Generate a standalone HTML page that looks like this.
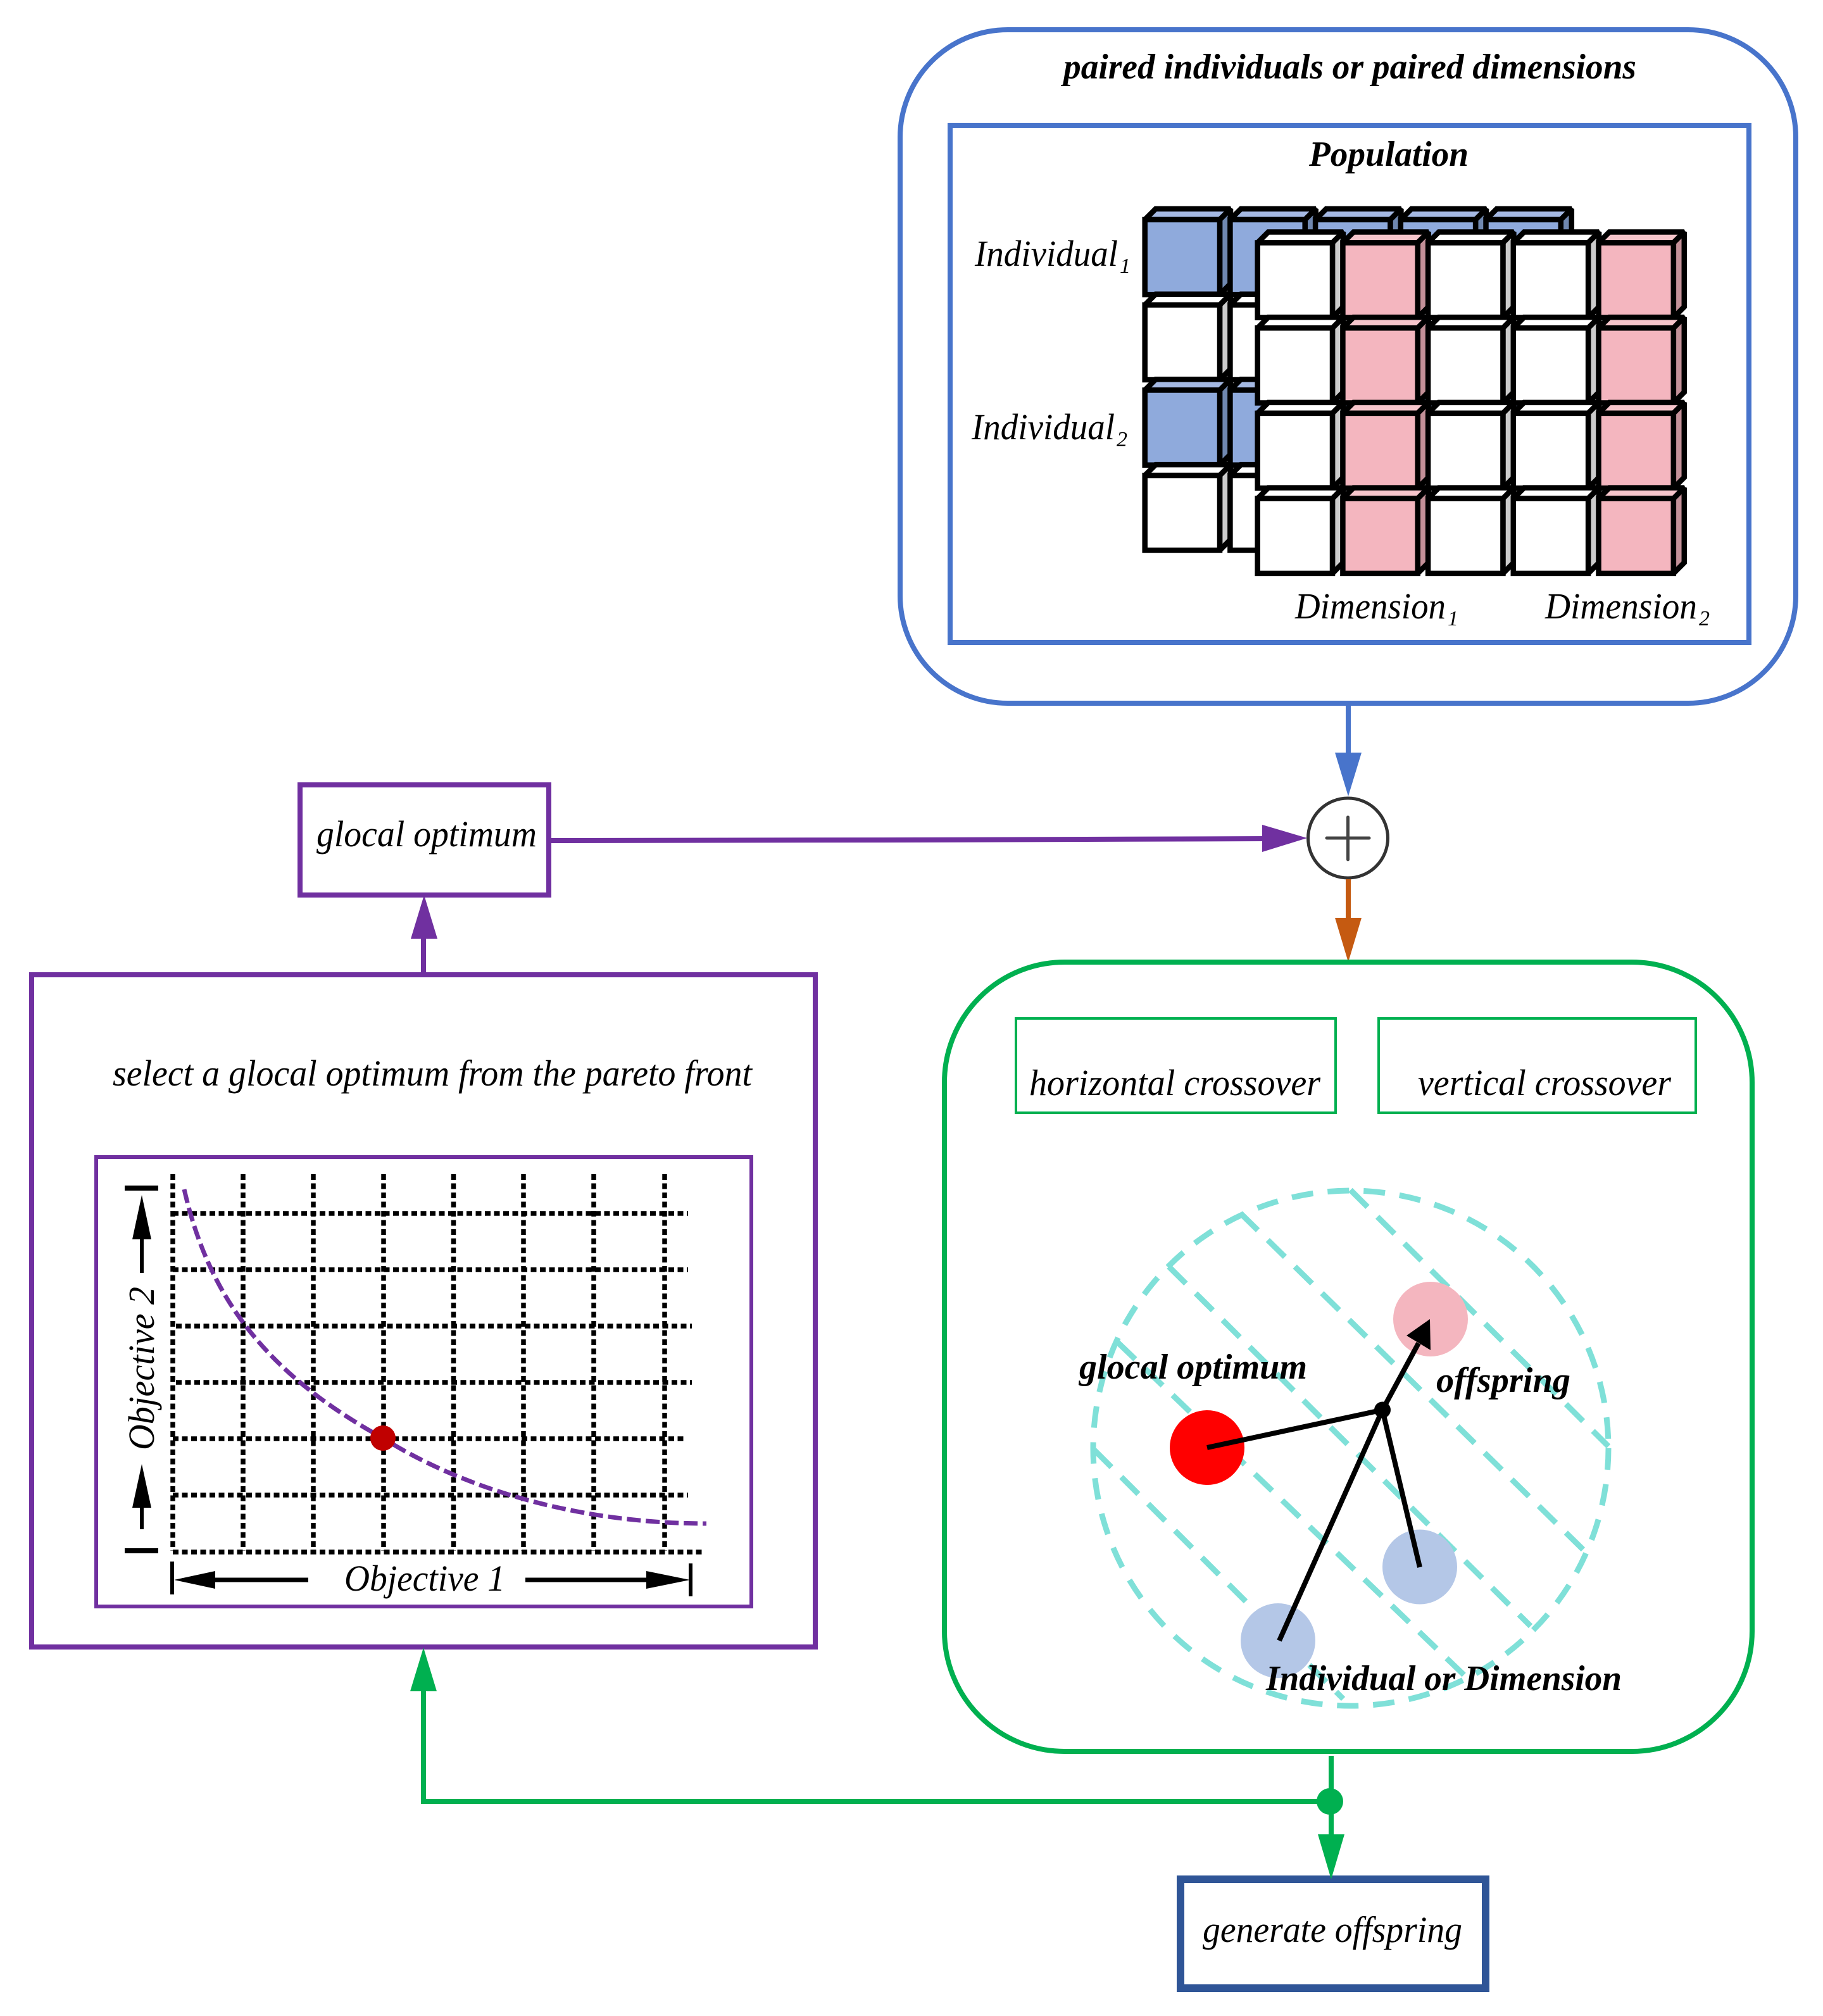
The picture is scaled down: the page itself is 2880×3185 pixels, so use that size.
<!DOCTYPE html>
<html><head><meta charset="utf-8"><style>
html,body{margin:0;padding:0;background:#fff}
svg{display:block}
text{font-family:"Liberation Serif",serif;font-style:italic;fill:#000}
.b{font-weight:bold}
</style></head><body>
<svg width="2880" height="3185" viewBox="0 0 2880 3185" xmlns="http://www.w3.org/2000/svg">
<defs>
<g id="cw" stroke="#000" stroke-width="8.5" stroke-linejoin="miter" stroke-miterlimit="1.5">
<path d="M0 0L17 -17H135.300L118.300 0Z" fill="#fff"/><path d="M118.300 0L135.300 -17V101.300L118.300 118.300Z" fill="#ccc"/><rect width="118.300" height="118.300" fill="#fff"/></g>
<g id="cb" stroke="#000" stroke-width="8.5" stroke-miterlimit="1.5">
<path d="M0 0L17 -17H135.300L118.300 0Z" fill="#a5b9e3"/><path d="M118.300 0L135.300 -17V101.300L118.300 118.300Z" fill="#7088b0"/><rect width="118.300" height="118.300" fill="#8faadc"/></g>
<g id="cp" stroke="#000" stroke-width="8.5" stroke-miterlimit="1.5">
<path d="M0 0L17 -17H135.300L118.300 0Z" fill="#f6c5cb"/><path d="M118.300 0L135.300 -17V101.300L118.300 118.300Z" fill="#c39098"/><rect width="118.300" height="118.300" fill="#f4b6bf"/></g>
</defs>
<rect width="2880" height="3185" fill="#fff"/>

<!-- blue container -->
<rect x="1422" y="47" width="1415" height="1064" rx="170" ry="170" fill="#fff" stroke="#4874cb" stroke-width="8"/>
<rect x="1501" y="198" width="1262" height="817" fill="#fff" stroke="#4874cb" stroke-width="8"/>
<text x="1680" y="124" font-size="56" class="b" textLength="905" lengthAdjust="spacingAndGlyphs">paired individuals or paired dimensions</text>
<text x="2068" y="262" font-size="56" class="b" textLength="252" lengthAdjust="spacingAndGlyphs">Population</text>

<!-- back cubes -->
<use href="#cb" x="1808.700" y="347"/><use href="#cb" x="1943.400" y="347"/><use href="#cb" x="2078.100" y="347"/><use href="#cb" x="2212.800" y="347"/><use href="#cb" x="2347.500" y="347"/>
<use href="#cw" x="1808.700" y="481.700"/><use href="#cw" x="1943.400" y="481.700"/><use href="#cw" x="2078.100" y="481.700"/><use href="#cw" x="2212.800" y="481.700"/><use href="#cw" x="2347.500" y="481.700"/>
<use href="#cb" x="1808.700" y="616.400"/><use href="#cb" x="1943.400" y="616.400"/><use href="#cb" x="2078.100" y="616.400"/><use href="#cb" x="2212.800" y="616.400"/><use href="#cb" x="2347.500" y="616.400"/>
<use href="#cw" x="1808.700" y="751.100"/><use href="#cw" x="1943.400" y="751.100"/><use href="#cw" x="2078.100" y="751.100"/><use href="#cw" x="2212.800" y="751.100"/><use href="#cw" x="2347.500" y="751.100"/>
<!-- front cubes -->
<use href="#cw" x="1986.700" y="383.500"/><use href="#cp" x="2121.400" y="383.500"/><use href="#cw" x="2256.100" y="383.500"/><use href="#cw" x="2390.800" y="383.500"/><use href="#cp" x="2525.500" y="383.500"/>
<use href="#cw" x="1986.700" y="518.200"/><use href="#cp" x="2121.400" y="518.200"/><use href="#cw" x="2256.100" y="518.200"/><use href="#cw" x="2390.800" y="518.200"/><use href="#cp" x="2525.500" y="518.200"/>
<use href="#cw" x="1986.700" y="652.900"/><use href="#cp" x="2121.400" y="652.900"/><use href="#cw" x="2256.100" y="652.900"/><use href="#cw" x="2390.800" y="652.900"/><use href="#cp" x="2525.500" y="652.900"/>
<use href="#cw" x="1986.700" y="787.600"/><use href="#cp" x="2121.400" y="787.600"/><use href="#cw" x="2256.100" y="787.600"/><use href="#cw" x="2390.800" y="787.600"/><use href="#cp" x="2525.500" y="787.600"/>

<text x="1540" y="420" font-size="58" textLength="226" lengthAdjust="spacingAndGlyphs">Individual</text>
<text x="1769" y="431" font-size="34" textLength="17" lengthAdjust="spacingAndGlyphs">1</text>
<text x="1535" y="694" font-size="58" textLength="226" lengthAdjust="spacingAndGlyphs">Individual</text>
<text x="1764" y="705" font-size="34" textLength="17" lengthAdjust="spacingAndGlyphs">2</text>
<text x="2046" y="977" font-size="58" textLength="238" lengthAdjust="spacingAndGlyphs">Dimension</text>
<text x="2287" y="988" font-size="34" textLength="17" lengthAdjust="spacingAndGlyphs">1</text>
<text x="2441" y="977" font-size="58" textLength="240" lengthAdjust="spacingAndGlyphs">Dimension</text>
<text x="2684" y="988" font-size="34" textLength="17" lengthAdjust="spacingAndGlyphs">2</text>

<!-- connectors top -->
<path d="M2130 1111V1195" stroke="#4874cb" stroke-width="8" fill="none"/>
<path d="M2109 1189H2151L2130 1258Z" fill="#4874cb"/>
<circle cx="2129.500" cy="1324" r="63" fill="#fff" stroke="#333" stroke-width="5"/>
<path d="M2096 1324H2163M2129.500 1291V1358" stroke="#444" stroke-width="5" stroke-linecap="round" fill="none"/>
<path d="M867 1328L1450 1327L1998 1325" stroke="#7030a0" stroke-width="8" fill="none"/>
<path d="M1994 1303L2065 1324L1994 1346Z" fill="#7030a0"/>
<path d="M2130 1389V1455" stroke="#c55a11" stroke-width="8" fill="none"/>
<path d="M2109 1450H2151L2130 1520Z" fill="#c55a11"/>

<!-- glocal box -->
<rect x="474" y="1240" width="393" height="174" fill="#fff" stroke="#7030a0" stroke-width="8"/>
<text x="500" y="1337" font-size="58" textLength="348" lengthAdjust="spacingAndGlyphs">glocal optimum</text>
<path d="M669 1539V1480" stroke="#7030a0" stroke-width="8" fill="none"/>
<path d="M649 1483H691L670 1414Z" fill="#7030a0"/>

<!-- purple panel -->
<rect x="50" y="1540" width="1238" height="1062" fill="#fff" stroke="#7030a0" stroke-width="8"/>
<text x="178" y="1715" font-size="58" textLength="1010" lengthAdjust="spacingAndGlyphs">select a glocal optimum from the pareto front</text>
<rect x="152" y="1828" width="1035" height="710" fill="#fff" stroke="#7030a0" stroke-width="6"/>
<g stroke="#000" stroke-width="7.5" stroke-dasharray="9 5.500" fill="none">
<path d="M273 1855V2450M384 1855V2450M495 1855V2450M606 1855V2450M716.500 1855V2450M827 1855V2450M938 1855V2450M1050 1855V2450"/>
<path d="M273 1917H1087M273 2006H1087M278 2095H1093M278 2184H1093M273 2273H1084M273 2362H1087M273 2452H1111"/>
</g>
<path d="M291 1879C330 2050 420 2170 605 2272C720 2345 900 2407 1116 2407" fill="none" stroke="#7030a0" stroke-width="7" stroke-dasharray="22 8"/>
<ellipse cx="605" cy="2272" rx="20" ry="20" fill="#c00000"/>
<!-- y axis -->
<path d="M197 1877H250M197 2450H250" stroke="#000" stroke-width="8" fill="none"/>
<path d="M224 1950V2011M224 2375V2416" stroke="#000" stroke-width="6" fill="none"/>
<path d="M224 1888L239 1958H209Z M224 2313L239 2382H209Z" fill="#000"/>
<text transform="translate(243 2291) rotate(-90)" font-size="58" textLength="258" lengthAdjust="spacingAndGlyphs">Objective 2</text>
<!-- x axis -->
<path d="M272 2467V2519M1091 2470V2522" stroke="#000" stroke-width="6" fill="none"/>
<path d="M335 2496H487M830 2496H1025" stroke="#000" stroke-width="7" fill="none"/>
<path d="M275 2496L340 2482V2510Z M1090 2496L1021 2482V2510Z" fill="#000"/>
<text x="544" y="2513" font-size="58" textLength="254" lengthAdjust="spacingAndGlyphs">Objective 1</text>

<!-- green panel -->
<rect x="1492" y="1520" width="1276" height="1247" rx="190" ry="190" fill="#fff" stroke="#00b050" stroke-width="8"/>
<rect x="1605" y="1609" width="505" height="149" fill="#fff" stroke="#00b050" stroke-width="4"/>
<rect x="2178" y="1609" width="501" height="149" fill="#fff" stroke="#00b050" stroke-width="4"/>
<text x="1626" y="1730" font-size="58" textLength="460" lengthAdjust="spacingAndGlyphs">horizontal crossover</text>
<text x="2240" y="1730" font-size="58" textLength="400" lengthAdjust="spacingAndGlyphs">vertical crossover</text>

<g fill="none" stroke="#7fe0d8" stroke-width="9">
<ellipse cx="2134" cy="2288" rx="407" ry="407" stroke-dasharray="34 23"/>
<path stroke-dasharray="38 22" d="M2133.500 1880L2541 2285M1960 1917L2504 2451M1846.500 2001L2418 2569M1766 2121L2322 2655M1729 2291L2122 2684"/>
</g>
<circle cx="1907" cy="2287" r="59" fill="#f00"/>
<circle cx="2260" cy="2084" r="59" fill="#f4b6bf"/>
<circle cx="2243" cy="2475.500" r="59" fill="#b4c7e7"/>
<circle cx="2019" cy="2592" r="59" fill="#b4c7e7"/>
<path d="M1907 2287L2184 2227.500M2021 2592L2184 2227.500M2243 2476L2184 2227.500M2184 2227.500L2241 2122" stroke="#000" stroke-width="8" fill="none"/>
<path d="M2259 2084L2222 2110L2260 2133Z" fill="#000"/>
<circle cx="2184" cy="2227.500" r="13" fill="#000"/>
<text x="1705" y="2178" font-size="56" class="b" textLength="360" lengthAdjust="spacingAndGlyphs">glocal optimum</text>
<text x="2269" y="2199" font-size="56" class="b" textLength="212" lengthAdjust="spacingAndGlyphs">offspring</text>
<text x="2000" y="2670" font-size="56" class="b" textLength="562" lengthAdjust="spacingAndGlyphs">Individual or Dimension</text>

<!-- bottom connectors -->
<path d="M2103 2774V2905" stroke="#00b050" stroke-width="8" fill="none"/>
<ellipse cx="2101" cy="2846" rx="21" ry="21" fill="#00b050"/>
<path d="M2101 2846H669V2665" stroke="#00b050" stroke-width="8" fill="none"/>
<path d="M648 2672H690L669 2603Z" fill="#00b050"/>
<rect x="1865" y="2969" width="482" height="172" fill="none" stroke="#2f5597" stroke-width="12"/>
<path d="M2082 2898H2124L2103 2969Z" fill="#00b050"/>
<text x="1900" y="3068" font-size="58" textLength="410" lengthAdjust="spacingAndGlyphs">generate offspring</text>
</svg>
</body></html>
